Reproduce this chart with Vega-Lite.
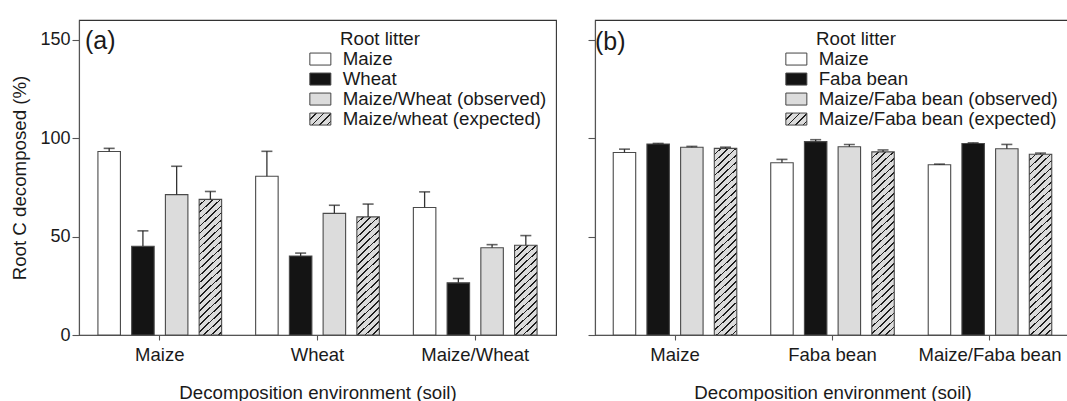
{
  "$schema": "https://vega.github.io/schema/vega-lite/v6.json",
  "padding": {"left": 10, "top": 19, "right": 0, "bottom": 0},
  "spacing": 29,
  "params": [
    {"name": "hatchStops", "value": [
      {"offset":0,"color":"#dcdcdc"},{"offset":0.02375,"color":"#dcdcdc"},{"offset":0.02375,"color":"#1e1e1e"},{"offset":0.03125,"color":"#1e1e1e"},
      {"offset":0.03125,"color":"#dcdcdc"},{"offset":0.055,"color":"#dcdcdc"},{"offset":0.055,"color":"#1e1e1e"},{"offset":0.0625,"color":"#1e1e1e"},
      {"offset":0.0625,"color":"#dcdcdc"},{"offset":0.08625,"color":"#dcdcdc"},{"offset":0.08625,"color":"#1e1e1e"},{"offset":0.09375,"color":"#1e1e1e"},
      {"offset":0.09375,"color":"#dcdcdc"},{"offset":0.1175,"color":"#dcdcdc"},{"offset":0.1175,"color":"#1e1e1e"},{"offset":0.125,"color":"#1e1e1e"},
      {"offset":0.125,"color":"#dcdcdc"},{"offset":0.14875,"color":"#dcdcdc"},{"offset":0.14875,"color":"#1e1e1e"},{"offset":0.15625,"color":"#1e1e1e"},
      {"offset":0.15625,"color":"#dcdcdc"},{"offset":0.18,"color":"#dcdcdc"},{"offset":0.18,"color":"#1e1e1e"},{"offset":0.1875,"color":"#1e1e1e"},
      {"offset":0.1875,"color":"#dcdcdc"},{"offset":0.21125,"color":"#dcdcdc"},{"offset":0.21125,"color":"#1e1e1e"},{"offset":0.21875,"color":"#1e1e1e"},
      {"offset":0.21875,"color":"#dcdcdc"},{"offset":0.2425,"color":"#dcdcdc"},{"offset":0.2425,"color":"#1e1e1e"},{"offset":0.25,"color":"#1e1e1e"},
      {"offset":0.25,"color":"#dcdcdc"},{"offset":0.27375,"color":"#dcdcdc"},{"offset":0.27375,"color":"#1e1e1e"},{"offset":0.28125,"color":"#1e1e1e"},
      {"offset":0.28125,"color":"#dcdcdc"},{"offset":0.305,"color":"#dcdcdc"},{"offset":0.305,"color":"#1e1e1e"},{"offset":0.3125,"color":"#1e1e1e"},
      {"offset":0.3125,"color":"#dcdcdc"},{"offset":0.33625,"color":"#dcdcdc"},{"offset":0.33625,"color":"#1e1e1e"},{"offset":0.34375,"color":"#1e1e1e"},
      {"offset":0.34375,"color":"#dcdcdc"},{"offset":0.3675,"color":"#dcdcdc"},{"offset":0.3675,"color":"#1e1e1e"},{"offset":0.375,"color":"#1e1e1e"},
      {"offset":0.375,"color":"#dcdcdc"},{"offset":0.39875,"color":"#dcdcdc"},{"offset":0.39875,"color":"#1e1e1e"},{"offset":0.40625,"color":"#1e1e1e"},
      {"offset":0.40625,"color":"#dcdcdc"},{"offset":0.43,"color":"#dcdcdc"},{"offset":0.43,"color":"#1e1e1e"},{"offset":0.4375,"color":"#1e1e1e"},
      {"offset":0.4375,"color":"#dcdcdc"},{"offset":0.46125,"color":"#dcdcdc"},{"offset":0.46125,"color":"#1e1e1e"},{"offset":0.46875,"color":"#1e1e1e"},
      {"offset":0.46875,"color":"#dcdcdc"},{"offset":0.4925,"color":"#dcdcdc"},{"offset":0.4925,"color":"#1e1e1e"},{"offset":0.5,"color":"#1e1e1e"},
      {"offset":0.5,"color":"#dcdcdc"},{"offset":0.52375,"color":"#dcdcdc"},{"offset":0.52375,"color":"#1e1e1e"},{"offset":0.53125,"color":"#1e1e1e"},
      {"offset":0.53125,"color":"#dcdcdc"},{"offset":0.555,"color":"#dcdcdc"},{"offset":0.555,"color":"#1e1e1e"},{"offset":0.5625,"color":"#1e1e1e"},
      {"offset":0.5625,"color":"#dcdcdc"},{"offset":0.58625,"color":"#dcdcdc"},{"offset":0.58625,"color":"#1e1e1e"},{"offset":0.59375,"color":"#1e1e1e"},
      {"offset":0.59375,"color":"#dcdcdc"},{"offset":0.6175,"color":"#dcdcdc"},{"offset":0.6175,"color":"#1e1e1e"},{"offset":0.625,"color":"#1e1e1e"},
      {"offset":0.625,"color":"#dcdcdc"},{"offset":0.64875,"color":"#dcdcdc"},{"offset":0.64875,"color":"#1e1e1e"},{"offset":0.65625,"color":"#1e1e1e"},
      {"offset":0.65625,"color":"#dcdcdc"},{"offset":0.68,"color":"#dcdcdc"},{"offset":0.68,"color":"#1e1e1e"},{"offset":0.6875,"color":"#1e1e1e"},
      {"offset":0.6875,"color":"#dcdcdc"},{"offset":0.71125,"color":"#dcdcdc"},{"offset":0.71125,"color":"#1e1e1e"},{"offset":0.71875,"color":"#1e1e1e"},
      {"offset":0.71875,"color":"#dcdcdc"},{"offset":0.7425,"color":"#dcdcdc"},{"offset":0.7425,"color":"#1e1e1e"},{"offset":0.75,"color":"#1e1e1e"},
      {"offset":0.75,"color":"#dcdcdc"},{"offset":0.77375,"color":"#dcdcdc"},{"offset":0.77375,"color":"#1e1e1e"},{"offset":0.78125,"color":"#1e1e1e"},
      {"offset":0.78125,"color":"#dcdcdc"},{"offset":0.805,"color":"#dcdcdc"},{"offset":0.805,"color":"#1e1e1e"},{"offset":0.8125,"color":"#1e1e1e"},
      {"offset":0.8125,"color":"#dcdcdc"},{"offset":0.83625,"color":"#dcdcdc"},{"offset":0.83625,"color":"#1e1e1e"},{"offset":0.84375,"color":"#1e1e1e"},
      {"offset":0.84375,"color":"#dcdcdc"},{"offset":0.8675,"color":"#dcdcdc"},{"offset":0.8675,"color":"#1e1e1e"},{"offset":0.875,"color":"#1e1e1e"},
      {"offset":0.875,"color":"#dcdcdc"},{"offset":0.89875,"color":"#dcdcdc"},{"offset":0.89875,"color":"#1e1e1e"},{"offset":0.90625,"color":"#1e1e1e"},
      {"offset":0.90625,"color":"#dcdcdc"},{"offset":0.93,"color":"#dcdcdc"},{"offset":0.93,"color":"#1e1e1e"},{"offset":0.9375,"color":"#1e1e1e"},
      {"offset":0.9375,"color":"#dcdcdc"},{"offset":1,"color":"#dcdcdc"}
    ]}
  ],
  "config": {
    "font": "Liberation Sans",
    "view": {"stroke": "#333333", "strokeWidth": 1.1},
    "axis": {"grid": false, "labelFont": "Liberation Sans", "titleFont": "Liberation Sans", "labelFontSize": 18.5, "titleFontSize": 18.7, "titleFontWeight": "normal", "labelColor": "#1a1a1a", "titleColor": "#1a1a1a", "domainColor": "#555555", "tickColor": "#555555", "domainWidth": 1.1, "tickWidth": 1.1},
    "axisY": {"tickSize": 7, "labelPadding": 2, "titlePadding": 10, "labelFontSize": 18},
    "axisX": {"tickSize": 5, "labelPadding": 5, "titlePadding": 20, "labelAngle": 0},
    "legend": {"orient": "none", "padding": 0, "offset": 0, "titleFont": "Liberation Sans", "labelFont": "Liberation Sans", "titleFontSize": 18.7, "labelFontSize": 18.7, "titleFontWeight": "normal", "titleColor": "#1a1a1a", "labelColor": "#1a1a1a", "symbolType": "M-1.75,-1H1.75V1H-1.75Z", "symbolSize": 144, "symbolStrokeWidth": 1, "symbolStrokeColor": "#444444", "labelOffset": 13, "rowPadding": -2, "titlePadding": 1, "labelLimit": 500},
    "title": {"font": "Liberation Sans", "fontSize": 25, "fontWeight": "normal", "color": "#1a1a1a", "anchor": "start", "frame": "group"}
  },
  "resolve": {"scale": {"color": "independent", "x": "independent", "xOffset": "independent", "y": "independent"}, "legend": {"color": "independent"}},
  "hconcat": [
    {
      "width": 477,
      "height": 315,
      "title": {"text": "(a)", "offset": -34, "dx": 6},
      "data": {"values": [
        {"env": "Maize", "litter": "Maize", "value": 93.2, "upper": 94.8},
        {"env": "Maize", "litter": "Wheat", "value": 45.1, "upper": 52.9},
        {"env": "Maize", "litter": "Maize/Wheat (observed)", "value": 71.3, "upper": 85.7},
        {"env": "Maize", "litter": "Maize/wheat (expected)", "value": 68.9, "upper": 72.9},
        {"env": "Wheat", "litter": "Maize", "value": 80.6, "upper": 93.3},
        {"env": "Wheat", "litter": "Wheat", "value": 40.1, "upper": 41.6},
        {"env": "Wheat", "litter": "Maize/Wheat (observed)", "value": 61.8, "upper": 65.9},
        {"env": "Wheat", "litter": "Maize/wheat (expected)", "value": 60.0, "upper": 66.5},
        {"env": "Maize/Wheat", "litter": "Maize", "value": 64.8, "upper": 72.7},
        {"env": "Maize/Wheat", "litter": "Wheat", "value": 26.5, "upper": 28.7},
        {"env": "Maize/Wheat", "litter": "Maize/Wheat (observed)", "value": 44.3, "upper": 45.9},
        {"env": "Maize/Wheat", "litter": "Maize/wheat (expected)", "value": 45.6, "upper": 50.5}
      ]},
      "encoding": {
        "x": {"field": "env", "type": "nominal", "sort": ["Maize", "Wheat", "Maize/Wheat"], "scale": {"paddingInner": 0.2156, "paddingOuter": 0.12}, "axis": {"title": "Decomposition environment (soil)"}},
        "xOffset": {"field": "litter", "type": "nominal", "sort": ["Maize", "Wheat", "Maize/Wheat (observed)", "Maize/wheat (expected)"], "scale": {"paddingInner": 0.333, "paddingOuter": 0}}
      },
      "layer": [
        {
          "mark": {"type": "bar", "stroke": "#4a4a4a", "strokeWidth": 1.1},
          "encoding": {
            "y": {"field": "value", "type": "quantitative", "title": "Root C decomposed (%)", "scale": {"domain": [0, 150]}, "axis": {"values": [0, 50, 100, 150]}},
            "color": {
              "field": "litter", "type": "nominal",
              "scale": {"domain": ["Maize", "Wheat", "Maize/Wheat (observed)", "Maize/wheat (expected)"], "range": ["#ffffff", "#141414", "#dcdcdc", {"expr": "{gradient: 'linear', x1: 0, y1: 0, x2: 8.615, y2: 4.923, stops: hatchStops}"}]},
              "condition": [{"test": "indexof(datum.litter, 'expected') >= 0", "value": {"expr": "{gradient: 'linear', x1: 0, y1: 0, x2: 22.5*240/(506.25 + pow(2.1*datum.value, 2)), y2: 2.1*datum.value*240/(506.25 + pow(2.1*datum.value, 2)), stops: hatchStops}"}}],
              "legend": {
                "title": "Root litter",
                "legendX": 232,
                "legendY": 10,
                "encode": {
                  "title": {"update": {"dx": {"value": 29}}}
                }
              }
            }
          }
        },
        {
          "mark": {"type": "rule", "color": "#333333", "strokeWidth": 1.3},
          "encoding": {"y": {"field": "value", "type": "quantitative", "title": "Root C decomposed (%)"}, "y2": {"field": "upper"}}
        },
        {
          "mark": {"type": "tick", "color": "#222222", "size": 11, "thickness": 1.6, "orient": "horizontal"},
          "encoding": {"y": {"field": "upper", "type": "quantitative", "title": "Root C decomposed (%)"}}
        }
      ]
    },
    {
      "width": 475,
      "height": 315,
      "title": {"text": "(b)", "offset": -35, "dx": 0},
      "data": {"values": [
        {"env": "Maize", "litter": "Maize", "value": 92.7, "upper": 94.4},
        {"env": "Maize", "litter": "Faba bean", "value": 97.0, "upper": 97.3},
        {"env": "Maize", "litter": "Maize/Faba bean (observed)", "value": 95.4, "upper": 95.8},
        {"env": "Maize", "litter": "Maize/Faba bean (expected)", "value": 94.8, "upper": 95.4},
        {"env": "Faba bean", "litter": "Maize", "value": 87.5, "upper": 89.2},
        {"env": "Faba bean", "litter": "Faba bean", "value": 98.2, "upper": 99.2},
        {"env": "Faba bean", "litter": "Maize/Faba bean (observed)", "value": 95.6, "upper": 96.8},
        {"env": "Faba bean", "litter": "Maize/Faba bean (expected)", "value": 93.0, "upper": 94.0},
        {"env": "Maize/Faba bean", "litter": "Maize", "value": 86.5, "upper": 86.8},
        {"env": "Maize/Faba bean", "litter": "Faba bean", "value": 97.3, "upper": 97.6},
        {"env": "Maize/Faba bean", "litter": "Maize/Faba bean (observed)", "value": 94.6, "upper": 96.8},
        {"env": "Maize/Faba bean", "litter": "Maize/Faba bean (expected)", "value": 91.8, "upper": 92.4}
      ]},
      "encoding": {
        "x": {"field": "env", "type": "nominal", "sort": ["Maize", "Faba bean", "Maize/Faba bean"], "scale": {"paddingInner": 0.2156, "paddingOuter": 0.1158}, "axis": {"title": "Decomposition environment (soil)"}},
        "xOffset": {"field": "litter", "type": "nominal", "sort": ["Maize", "Faba bean", "Maize/Faba bean (observed)", "Maize/Faba bean (expected)"], "scale": {"paddingInner": 0.333, "paddingOuter": 0}}
      },
      "layer": [
        {
          "mark": {"type": "bar", "stroke": "#4a4a4a", "strokeWidth": 1.1},
          "encoding": {
            "y": {"field": "value", "type": "quantitative", "title": null, "scale": {"domain": [0, 150]}, "axis": {"values": [0, 50, 100, 150], "labels": false, "title": null}},
            "color": {
              "field": "litter", "type": "nominal",
              "scale": {"domain": ["Maize", "Faba bean", "Maize/Faba bean (observed)", "Maize/Faba bean (expected)"], "range": ["#ffffff", "#141414", "#dcdcdc", {"expr": "{gradient: 'linear', x1: 0, y1: 0, x2: 8.615, y2: 4.923, stops: hatchStops}"}]},
              "condition": [{"test": "indexof(datum.litter, 'expected') >= 0", "value": {"expr": "{gradient: 'linear', x1: 0, y1: 0, x2: 22.5*240/(506.25 + pow(2.1*datum.value, 2)), y2: 2.1*datum.value*240/(506.25 + pow(2.1*datum.value, 2)), stops: hatchStops}"}}],
              "legend": {
                "title": "Root litter",
                "legendX": 192,
                "legendY": 10,
                "encode": {
                  "title": {"update": {"dx": {"value": 29}}}
                }
              }
            }
          }
        },
        {
          "mark": {"type": "rule", "color": "#333333", "strokeWidth": 1.3},
          "encoding": {"y": {"field": "value", "type": "quantitative", "title": null}, "y2": {"field": "upper"}}
        },
        {
          "mark": {"type": "tick", "color": "#222222", "size": 11, "thickness": 1.6, "orient": "horizontal"},
          "encoding": {"y": {"field": "upper", "type": "quantitative", "title": null}}
        }
      ]
    }
  ]
}
